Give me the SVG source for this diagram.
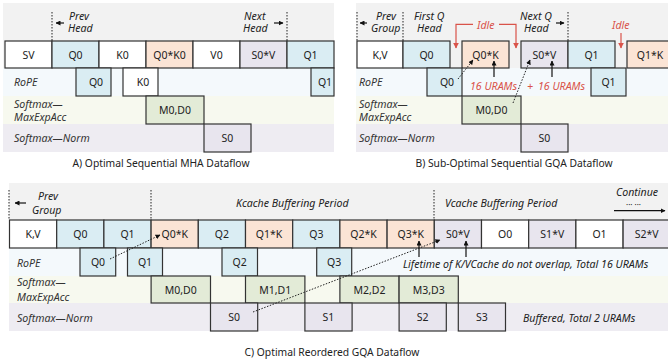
<svg xmlns="http://www.w3.org/2000/svg" width="668" height="364" viewBox="0 0 668 364">
<defs>
<marker id="ak" viewBox="0 0 10 10" refX="9" refY="5" markerWidth="5" markerHeight="5" markerUnits="userSpaceOnUse" orient="auto"><path d="M0,0 L10,5 L0,10 z" fill="#111"/></marker>
<marker id="ar" viewBox="0 0 10 10" refX="9" refY="5" markerWidth="6" markerHeight="6" markerUnits="userSpaceOnUse" orient="auto"><path d="M0,0 L10,5 L0,10 z" fill="#d9534a"/></marker>
<style>
.bx{stroke:#333;stroke-width:1.2}
.w{fill:#ffffff}.q{fill:#daedf3}.qk{fill:#fbe4d5}.sv{fill:#e8e5ee}.md{fill:#e3ebd7}
.top{fill:#f2f2f2}.r1{fill:#f4f9fc}.r2{fill:#f7f9ef}.r3{fill:#eeecf2}
text{font-family:"Noto Sans","Liberation Sans",sans-serif;fill:#222}
.l{font-size:10.5px;text-anchor:middle;dominant-baseline:central}
.i{font-size:10.6px;font-style:italic;dominant-baseline:central}
.rl{font-size:10.6px;font-style:italic;dominant-baseline:central;fill:#333}
.red{fill:#d9534a}
.cap{font-size:10.3px;text-anchor:middle;dominant-baseline:central}
.dot{font-size:8px;dominant-baseline:central}
.dl{stroke:#222;stroke-width:1;stroke-dasharray:1.5 1.5;fill:none}
.ln{stroke:#111;stroke-width:1.2;fill:none}
.rln{stroke:#d9534a;stroke-width:1.2;fill:none}
</style>
</defs>

<!-- backgrounds -->
<g id="bg">
<rect class="top" x="3" y="3" width="331" height="65"/>
<rect class="r1" x="3" y="68" width="331" height="28"/>
<rect class="r2" x="3" y="96" width="331" height="28"/>
<rect class="r3" x="3" y="124" width="331" height="28"/>
<rect class="top" x="356" y="3" width="312" height="65"/>
<rect class="r1" x="356" y="68" width="312" height="28"/>
<rect class="r2" x="356" y="96" width="312" height="28"/>
<rect class="r3" x="356" y="124" width="312" height="28"/>
<rect class="top" x="9" y="183" width="659" height="65"/>
<rect class="r1" x="9" y="248" width="659" height="28"/>
<rect class="r2" x="9" y="276" width="659" height="27"/>
<rect class="r3" x="9" y="303" width="659" height="28"/>
</g>

<!-- Panel A -->
<g id="A-labels">
<text class="rl" x="14" y="82">RoPE</text>
<text class="rl" x="14" y="104">Softmax—</text>
<text class="rl" x="14" y="117">MaxExpAcc</text>
<text class="rl" x="14" y="138">Softmax—Norm</text>
<text class="i" x="69" y="15.5">Prev</text>
<text class="i" x="68" y="28">Head</text>
<text class="i" x="244" y="15.5">Next</text>
<text class="i" x="243" y="28">Head</text>
<text class="cap" x="161" y="163">A) Optimal Sequential MHA Dataflow</text>
</g>
<g id="A-SV"><rect class="bx w" x="5" y="41" width="47" height="27"/><text class="l" x="28.5" y="54.5">SV</text></g>
<g id="A-Q0"><rect class="bx q" x="52" y="41" width="47" height="27"/><text class="l" x="75.5" y="54.5">Q0</text></g>
<g id="A-K0"><rect class="bx w" x="99" y="41" width="47" height="27"/><text class="l" x="122.5" y="54.5">K0</text></g>
<g id="A-Q0K0"><rect class="bx qk" x="146" y="41" width="47" height="27"/><text class="l" x="169.5" y="54.5">Q0*K0</text></g>
<g id="A-V0"><rect class="bx w" x="193" y="41" width="47" height="27"/><text class="l" x="216.5" y="54.5">V0</text></g>
<g id="A-S0V"><rect class="bx sv" x="240" y="41" width="47" height="27"/><text class="l" x="263.5" y="54.5">S0*V</text></g>
<g id="A-Q1"><rect class="bx q" x="287" y="41" width="47" height="27"/><text class="l" x="310.5" y="54.5">Q1</text></g>
<g id="A-RQ0"><rect class="bx q" x="76" y="68" width="35" height="28"/><text class="l" x="96" y="82">Q0</text></g>
<g id="A-RK0"><rect class="bx w" x="123" y="68" width="35" height="28"/><text class="l" x="143" y="82">K0</text></g>
<g id="A-RQ1"><rect class="bx q" x="311" y="68" width="23" height="28"/><text class="l" x="325" y="82">Q1</text></g>
<g id="A-M0D0"><rect class="bx md" x="146" y="96" width="58" height="28"/><text class="l" x="175" y="110">M0,D0</text></g>
<g id="A-S0"><rect class="bx sv" x="204" y="124" width="47" height="28"/><text class="l" x="227.5" y="138">S0</text></g>

<!-- Panel B -->
<g id="B-labels">
<text class="rl" x="359" y="82">RoPE</text>
<text class="rl" x="359" y="104">Softmax—</text>
<text class="rl" x="359" y="117">MaxExpAcc</text>
<text class="rl" x="359" y="138">Softmax—Norm</text>
<text class="i" x="376" y="15.5">Prev</text>
<text class="i" x="371" y="28">Group</text>
<text class="i" x="414" y="15.5">First Q</text>
<text class="i" x="417" y="28">Head</text>
<text class="i" x="520" y="15.5">Next Q</text>
<text class="i" x="524" y="28">Head</text>
<text class="i red" x="477" y="24.5">Idle</text>
<text class="i red" x="612" y="24.5">Idle</text>
<text class="i red" x="470" y="86">16 URAMs</text>
<text class="i red" x="527" y="86">+</text>
<text class="i red" x="538" y="86">16 URAMs</text>
<text class="cap" x="514" y="163">B) Sub-Optimal Sequential GQA Dataflow</text>
</g>
<g id="B-KV"><rect class="bx w" x="357" y="41" width="46" height="27"/><text class="l" x="380" y="54.5">K,V</text></g>
<g id="B-Q0"><rect class="bx q" x="403" y="41" width="47" height="27"/><text class="l" x="426.5" y="54.5">Q0</text></g>
<g id="B-Q0K"><rect class="bx qk" x="462" y="41" width="47" height="27"/><text class="l" x="485.5" y="54.5">Q0*K</text></g>
<g id="B-S0V"><rect class="bx sv" x="521" y="41" width="47" height="27"/><text class="l" x="544.5" y="54.5">S0*V</text></g>
<g id="B-Q1"><rect class="bx q" x="568" y="41" width="47" height="27"/><text class="l" x="591.5" y="54.5">Q1</text></g>
<g id="B-Q1K"><rect class="bx qk" x="627" y="41" width="47" height="27"/><text class="l" x="650" y="54.5">Q1*K</text></g>
<g id="B-RQ0"><rect class="bx q" x="427" y="68" width="35" height="28"/><text class="l" x="447" y="82">Q0</text></g>
<g id="B-RQ1"><rect class="bx q" x="591" y="68" width="35" height="28"/><text class="l" x="608.5" y="82">Q1</text></g>
<g id="B-M0D0"><rect class="bx md" x="462" y="96" width="59" height="28"/><text class="l" x="491.5" y="110">M0,D0</text></g>
<g id="B-S0"><rect class="bx sv" x="521" y="124" width="47" height="28"/><text class="l" x="544.5" y="138">S0</text></g>

<!-- Panel C -->
<g id="C-labels">
<text class="rl" x="17" y="263">RoPE</text>
<text class="rl" x="17" y="282">Softmax—</text>
<text class="rl" x="17" y="297">MaxExpAcc</text>
<text class="rl" x="17" y="318">Softmax—Norm</text>
<text class="i" x="38" y="196">Prev</text>
<text class="i" x="32" y="210">Group</text>
<text class="i" x="236" y="203">Kcache Buffering Period</text>
<text class="i" x="445" y="203">Vcache Buffering Period</text>
<text class="i" x="616" y="192">Continue</text>
<text class="dot" x="626" y="204">··· ···</text>
<text class="i" x="403" y="264">Lifetime of K/VCache do not overlap, Total 16 URAMs</text>
<text class="i" x="523" y="317.5">Buffered, Total 2 URAMs</text>
<text class="cap" x="332" y="352">C) Optimal Reordered GQA Dataflow</text>
</g>
<g id="C-KV"><rect class="bx w" x="9.5" y="220" width="47.2" height="28"/><text class="l" x="33.1" y="234">K,V</text></g>
<g id="C-Q0"><rect class="bx q" x="56.7" y="220" width="47.2" height="28"/><text class="l" x="80.3" y="234">Q0</text></g>
<g id="C-Q1"><rect class="bx q" x="103.9" y="220" width="47.2" height="28"/><text class="l" x="127.5" y="234">Q1</text></g>
<g id="C-Q0K"><rect class="bx qk" x="151.1" y="220" width="47.2" height="28"/><text class="l" x="174.7" y="234">Q0*K</text></g>
<g id="C-Q2"><rect class="bx q" x="198.3" y="220" width="47.2" height="28"/><text class="l" x="221.9" y="234">Q2</text></g>
<g id="C-Q1K"><rect class="bx qk" x="245.5" y="220" width="47.2" height="28"/><text class="l" x="269.1" y="234">Q1*K</text></g>
<g id="C-Q3"><rect class="bx q" x="292.7" y="220" width="47.2" height="28"/><text class="l" x="316.3" y="234">Q3</text></g>
<g id="C-Q2K"><rect class="bx qk" x="339.9" y="220" width="47.2" height="28"/><text class="l" x="363.5" y="234">Q2*K</text></g>
<g id="C-Q3K"><rect class="bx qk" x="387.1" y="220" width="47.2" height="28"/><text class="l" x="410.7" y="234">Q3*K</text></g>
<g id="C-S0V"><rect class="bx sv" x="434.3" y="220" width="47.2" height="28"/><text class="l" x="457.9" y="234">S0*V</text></g>
<g id="C-O0"><rect class="bx w" x="481.5" y="220" width="47.2" height="28"/><text class="l" x="505.1" y="234">O0</text></g>
<g id="C-S1V"><rect class="bx sv" x="528.7" y="220" width="47.2" height="28"/><text class="l" x="552.3" y="234">S1*V</text></g>
<g id="C-O1"><rect class="bx w" x="575.9" y="220" width="47.2" height="28"/><text class="l" x="599.5" y="234">O1</text></g>
<g id="C-S2V"><rect class="bx sv" x="623.1" y="220" width="47.2" height="28"/><text class="l" x="646.7" y="234">S2*V</text></g>
<g id="C-RQ0"><rect class="bx q" x="80" y="248" width="35.7" height="28"/><text class="l" x="98" y="262">Q0</text></g>
<g id="C-RQ1"><rect class="bx q" x="127.5" y="248" width="35" height="28"/><text class="l" x="145" y="262">Q1</text></g>
<g id="C-RQ2"><rect class="bx q" x="222" y="248" width="35.5" height="28"/><text class="l" x="239.7" y="262">Q2</text></g>
<g id="C-RQ3"><rect class="bx q" x="316.7" y="248" width="35" height="28"/><text class="l" x="334.2" y="262">Q3</text></g>
<g id="C-M0D0"><rect class="bx md" x="151.1" y="276" width="59.4" height="27"/><text class="l" x="180.8" y="289.5">M0,D0</text></g>
<g id="C-M1D1"><rect class="bx md" x="245.5" y="276" width="59.4" height="27"/><text class="l" x="275.2" y="289.5">M1,D1</text></g>
<g id="C-M2D2"><rect class="bx md" x="339.9" y="276" width="59.2" height="27"/><text class="l" x="369.5" y="289.5">M2,D2</text></g>
<g id="C-M3D3"><rect class="bx md" x="399.1" y="276" width="59.2" height="27"/><text class="l" x="428.7" y="289.5">M3,D3</text></g>
<g id="C-S0"><rect class="bx sv" x="210.5" y="303" width="47.2" height="28"/><text class="l" x="234.1" y="317">S0</text></g>
<g id="C-S1"><rect class="bx sv" x="304.9" y="303" width="47.2" height="28"/><text class="l" x="328.5" y="317">S1</text></g>
<g id="C-S2"><rect class="bx sv" x="399.1" y="303" width="47.2" height="28"/><text class="l" x="422.7" y="317">S2</text></g>
<g id="C-S3"><rect class="bx sv" x="458.3" y="303" width="47.2" height="28"/><text class="l" x="481.9" y="317">S3</text></g>

<!-- connectors -->
<g id="connectors">
<line class="dl" x1="52" y1="12" x2="52" y2="41"/>
<line class="dl" x1="287" y1="12" x2="287" y2="41"/>
<line class="ln" x1="64" y1="23" x2="56" y2="23" marker-end="url(#ak)"/>
<line class="ln" x1="274" y1="23" x2="283" y2="23" marker-end="url(#ak)"/>

<line class="dl" x1="357" y1="12" x2="357" y2="41"/>
<line class="dl" x1="403" y1="12" x2="403" y2="41"/>
<line class="dl" x1="568" y1="12" x2="568" y2="41"/>
<line class="ln" x1="367" y1="23" x2="360" y2="23" marker-end="url(#ak)"/>
<line class="ln" x1="556" y1="23" x2="564" y2="23" marker-end="url(#ak)"/>
<path class="rln" d="M473,24.3 H456 V48" marker-end="url(#ar)"/>
<path class="rln" d="M499,24.3 H516 V48" marker-end="url(#ar)"/>
<line class="rln" x1="621" y1="33" x2="621" y2="48" marker-end="url(#ar)"/>
<line class="ln" x1="494" y1="77" x2="494" y2="61" marker-end="url(#ak)"/>
<line class="ln" x1="552" y1="77" x2="552" y2="61" marker-end="url(#ak)"/>
<line class="dl" x1="458" y1="79" x2="473" y2="60" marker-end="url(#ak)"/>
<line class="dl" x1="513" y1="103" x2="530" y2="60" marker-end="url(#ak)"/>

<line class="dl" x1="9" y1="190" x2="9" y2="220"/>
<line class="dl" x1="151" y1="190" x2="151" y2="220"/>
<line class="dl" x1="434" y1="190" x2="434" y2="220"/>
<line class="ln" x1="26" y1="203" x2="15" y2="203" marker-end="url(#ak)"/>
<line class="ln" x1="614" y1="210.7" x2="665" y2="210.7" marker-end="url(#ak)"/>
<line class="ln" x1="419" y1="257" x2="419" y2="241" marker-end="url(#ak)"/>
<line class="ln" x1="466" y1="257" x2="466" y2="241" marker-end="url(#ak)"/>
<line class="dl" x1="110" y1="259" x2="160" y2="235" marker-end="url(#ak)"/>
<line class="dl" x1="253" y1="312" x2="440" y2="240" marker-end="url(#ak)"/>
</g>
</svg>
